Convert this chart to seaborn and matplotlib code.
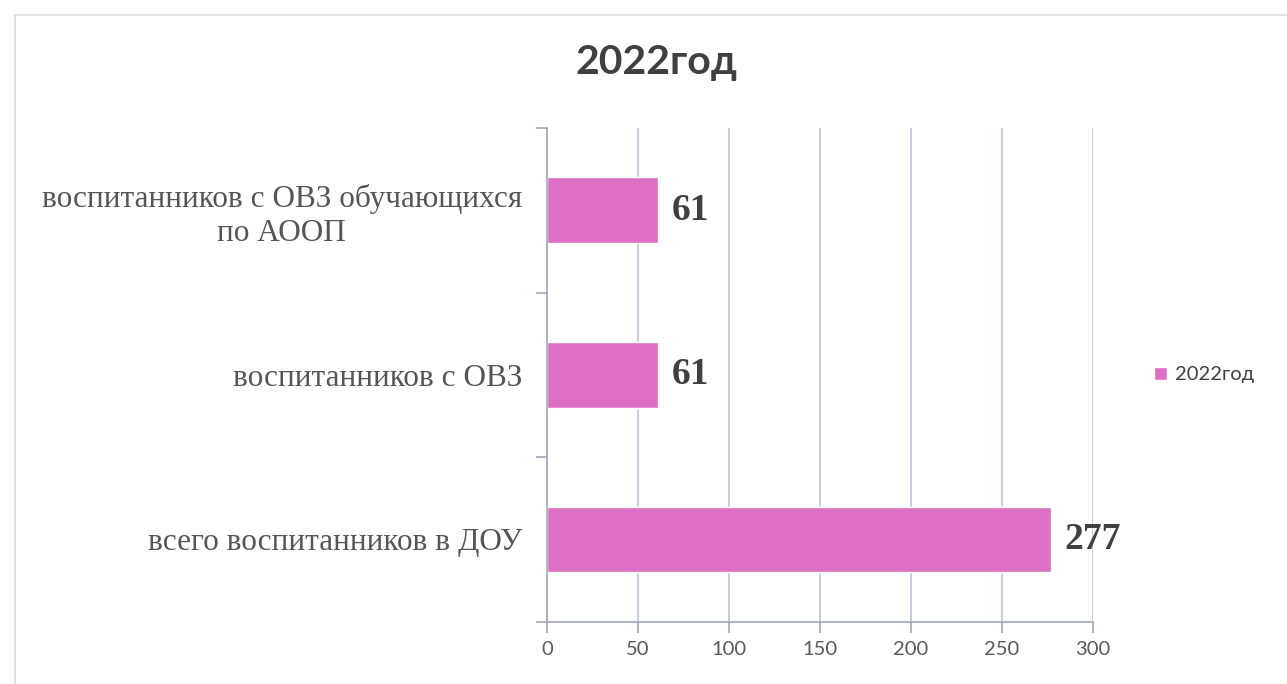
import matplotlib
matplotlib.use("Agg")
import matplotlib.pyplot as plt
import seaborn as sns
import pandas as pd
from matplotlib.patches import Rectangle

categories = ["воспитанников с ОВЗ обучающихся\nпо АООП", "воспитанников с ОВЗ", "всего воспитанников в ДОУ"]
values = [61, 61, 277]
series_name = "2022год"
x_ticks = [0, 50, 100, 150, 200, 250, 300]

df = pd.DataFrame({"category": categories, "value": values, "series": series_name})

sns.set_style("white")
plt.rcParams['font.family'] = ['Lato', 'DejaVu Sans']

bar_color = "#dc6fc4"
grid_color = "#b8c6da"
axis_color = "#a0a8b8"

fig = plt.figure(figsize=(12.87, 6.84), dpi=100)
ax = fig.add_axes([0.425, 0.091, 0.424, 0.722])

sns.barplot(data=df, x="value", y="category", hue="series", palette=[bar_color],
            width=0.4, orient="h", saturation=1, ax=ax, legend=True)

ax.set_xlim(0, 300)
ax.set_ylim(2.5, -0.5)
ax.set_xticks(x_ticks)
ax.set_xticklabels([str(t) for t in x_ticks], fontsize=14.5, color="#595959")
ax.grid(axis="x", color=grid_color, linewidth=1.2)
ax.set_axisbelow(True)

# category labels in serif
ax.set_yticks(range(len(categories)))
ax.set_yticklabels(categories, fontsize=22.5, color="#555555",
                   family=["Liberation Serif", "DejaVu Serif"], ha="right",
                   multialignment="center")
ax.tick_params(axis="y", which="major", left=False, length=0, pad=18)
ax.set_yticks([-0.5, 0.5, 1.5, 2.5], minor=True)
ax.tick_params(axis="y", which="minor", left=True, length=8, color=axis_color, width=1.2, direction="out")
ax.tick_params(axis="x", bottom=True, length=8, color=axis_color, width=1.2, direction="out", pad=6)

for side in ["top", "right"]:
    ax.spines[side].set_visible(False)
for side in ["left", "bottom"]:
    ax.spines[side].set_color(axis_color)
    ax.spines[side].set_linewidth(1.2)

ax.set_xlabel("")
ax.set_ylabel("")

for cont in ax.containers:
    ax.bar_label(cont, labels=[str(v) for v in values], padding=10, fontsize=27,
                 fontweight="bold", color="#404040",
                 family=["Liberation Serif", "DejaVu Serif"])

fig.suptitle("2022год", x=0.51, y=0.935, fontsize=29.5, fontweight="bold", color="#404040")

leg = ax.legend(loc="center left", bbox_to_anchor=(1.08, 0.5), frameon=False,
                fontsize=14.5, handlelength=0.6, handleheight=0.6, handletextpad=0.4)
for t in leg.get_texts():
    t.set_color("#404040")

# faint chart frame
fig.patches.append(Rectangle((0.012, -0.02), 0.99, 0.998, transform=fig.transFigure,
                             fill=False, edgecolor="#d8dce4", linewidth=1.2))

fig.savefig("out.png", dpi=100)
